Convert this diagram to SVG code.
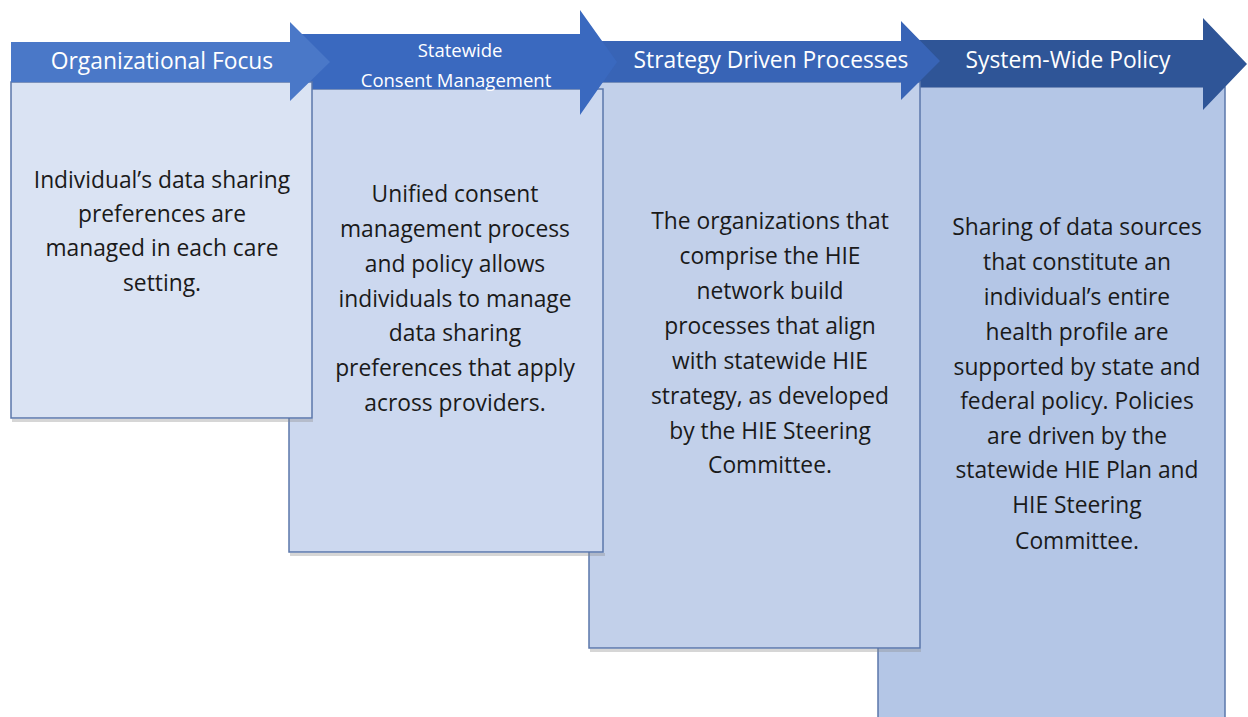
<svg xmlns="http://www.w3.org/2000/svg" width="1248" height="717" viewBox="0 0 1248 717">
<style>
.box{stroke:#5b77ab;stroke-width:1.5}
.sh{fill:#8a8a8a;opacity:0.35}
.t{font-family:"Open Sans","Noto Sans","Liberation Sans",sans-serif;font-size:22.8px;fill:#1a1a1a;text-anchor:middle}
.h{font-family:"Open Sans","Noto Sans","Liberation Sans",sans-serif;font-size:22.8px;fill:#ffffff;text-anchor:middle}
.hs{font-size:18.5px}
</style>
<rect width="1248" height="717" fill="#ffffff"/>
<g id="stage4">
<rect x="878" y="87" width="347" height="640" class="box" fill="#b4c6e6"/>
<polygon points="915,40 1203,40 1203,18 1247,64 1203,110 1203,87 915,87" fill="#2f5597"/>
<text class="h" x="1068" y="68">System-Wide Policy</text>
<g class="t">
<text x="1077" y="235">Sharing of data sources</text>
<text x="1077" y="270">that constitute an</text>
<text x="1077" y="305">individual’s entire</text>
<text x="1077" y="340">health profile are</text>
<text x="1077" y="375">supported by state and</text>
<text x="1077" y="409">federal policy. Policies</text>
<text x="1077" y="444">are driven by the</text>
<text x="1077" y="478">statewide HIE Plan and</text>
<text x="1077" y="513">HIE Steering</text>
<text x="1077" y="549">Committee.</text>
</g>
</g>
<g id="stage3">
<rect x="590" y="649" width="331" height="3" class="sh"/>
<rect x="589" y="82" width="331" height="566" class="box" fill="#c2d0ea"/>
<polygon points="600,41 901,41 901,21 940,61 901,100 901,82 600,82" fill="#3864b6"/>
<text class="h" x="771" y="68">Strategy Driven Processes</text>
<g class="t">
<text x="770" y="229">The organizations that</text>
<text x="770" y="264">comprise the HIE</text>
<text x="770" y="299">network build</text>
<text x="770" y="334">processes that align</text>
<text x="770" y="369">with statewide HIE</text>
<text x="770" y="404">strategy, as developed</text>
<text x="770" y="439">by the HIE Steering</text>
<text x="770" y="473">Committee.</text>
</g>
</g>
<g id="stage2">
<rect x="290" y="553" width="315" height="3" class="sh"/>
<rect x="289" y="89" width="314" height="463" class="box" fill="#ccd8ef"/>
<polygon points="300,34 580,34 580,10 617,62 580,115 580,89 300,89" fill="#3a69bf"/>
<text class="h hs" x="460" y="57">Statewide</text>
<text class="h hs" x="456" y="87">Consent Management</text>
<g class="t">
<text x="455" y="202">Unified consent</text>
<text x="455" y="237">management process</text>
<text x="455" y="272">and policy allows</text>
<text x="455" y="307">individuals to manage</text>
<text x="455" y="341">data sharing</text>
<text x="455" y="376">preferences that apply</text>
<text x="455" y="411">across providers.</text>
</g>
</g>
<g id="stage1">
<rect x="12" y="419" width="301" height="3" class="sh"/>
<rect x="11" y="82" width="301" height="336" class="box" fill="#dae3f3"/>
<polygon points="11,42 290,42 290,22 330,62 290,101 290,82 11,82" fill="#4a78c8"/>
<text class="h" x="162" y="69">Organizational Focus</text>
<g class="t">
<text x="162" y="188">Individual’s data sharing</text>
<text x="162" y="222">preferences are</text>
<text x="162" y="256">managed in each care</text>
<text x="162" y="291">setting.</text>
</g>
</g>
<g id="connectors"></g>
</svg>
